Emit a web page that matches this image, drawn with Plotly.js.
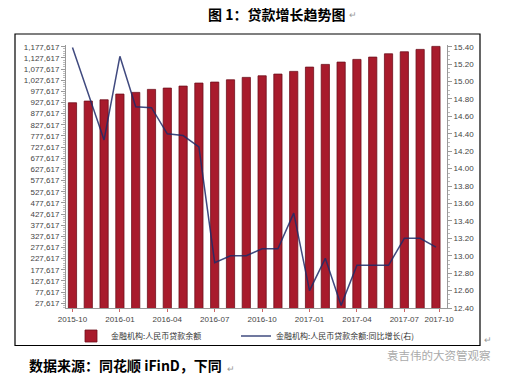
<!DOCTYPE html>
<html>
<head>
<meta charset="utf-8">
<script src="https://cdn.plot.ly/plotly-3.0.1.min.js"></script>
<style>
  html, body { margin: 0; padding: 0; background: #ffffff; }
  #chart { width: 507px; height: 377px; }
</style>
</head>
<body>
<div id="chart"></div>
<script>
// ---- data ----
const months = ['2015-10','2015-11','2015-12','2016-01','2016-02','2016-03','2016-04','2016-05',
                '2016-06','2016-07','2016-08','2016-09','2016-10','2016-11','2016-12','2017-01',
                '2017-02','2017-03','2017-04','2017-05','2017-06','2017-07','2017-08','2017-09'];
const loanBalance = [926300, 933900, 939700, 965300, 972900, 986300, 992100, 1001100,
                     1014600, 1019000, 1029300, 1040100, 1047200, 1054900, 1067000, 1086200,
                     1098300, 1108600, 1120700, 1131000, 1145800, 1154800, 1165500, 1179000];
const loanGrowth = [15.39, 14.86, 14.33, 15.29, 14.71, 14.70, 14.40, 14.38,
                    14.25, 12.92, 13.00, 13.00, 13.08, 13.08, 13.49, 12.60,
                    12.97, 12.43, 12.89, 12.89, 12.89, 13.20, 13.20, 13.10];
const xTickLabels = ['2015-10','2016-01','2016-04','2016-07','2016-10','2017-01','2017-04','2017-07','2017-10'];
const seriesNames = ['金融机构:人民币贷款余额', '金融机构:人民币贷款余额:同比增长(右)'];

// ---- geometry helpers (plot area in pixels) ----
const W = 507, H = 377;
const L = 66, R = 447, T = 45, B = 308;
const px = x => (x - L) / (R - L);
const py = y => (B - y) / (B - T);

const xIdx = months.map((m, i) => i);
const tickvals = xTickLabels.map(l => { const i = months.indexOf(l); return i >= 0 ? i : months.length - 0.8; });

const traces = [
  {
    type: 'bar', name: seriesNames[0], x: xIdx, y: loanBalance, text: months,
    hovertemplate: '%{text}: %{y:,}<extra></extra>', textposition: 'none', legend: 'legend',
    marker: { color: '#a81b2c', line: { color: '#6e0f1c', width: 0.8 } }
  },
  {
    type: 'scatter', mode: 'lines', name: seriesNames[1], x: xIdx, y: loanGrowth, yaxis: 'y2',
    text: months, hovertemplate: '%{text}: %{y:.2f}<extra></extra>', legend: 'legend2',
    line: { color: 'rgba(30,42,105,0.85)', width: 1.5 }
  }
];

const tickFont = { family: 'Liberation Sans, Noto Sans CJK SC, sans-serif', size: 8, color: '#444' };
const legendFont = { family: 'Noto Sans CJK SC, sans-serif', size: 8, color: '#333' };

const layout = {
  width: W, height: H,
  margin: { l: L, r: W - R, t: T, b: H - B, pad: 0 },
  paper_bgcolor: '#ffffff', plot_bgcolor: '#ffffff',
  font: { family: 'Noto Sans CJK SC, Liberation Sans, sans-serif', size: 8, color: '#333' },
  bargap: 0.48,
  showlegend: true,
  legend: {
    orientation: 'h', x: px(71), y: py(336), xanchor: 'left', yanchor: 'middle',
    font: legendFont, itemwidth: 30, bgcolor: 'rgba(0,0,0,0)'
  },
  legend2: {
    orientation: 'h', x: px(236), y: py(336), xanchor: 'left', yanchor: 'middle',
    font: legendFont, itemwidth: 30, bgcolor: 'rgba(0,0,0,0)'
  },
  xaxis: {
    range: [-0.41, 23.7], tickmode: 'array', tickvals: tickvals, ticktext: xTickLabels,
    showgrid: false, zeroline: false, showline: true, linecolor: '#999', linewidth: 1,
    ticks: 'outside', ticklen: 3, tickcolor: '#c66', tickfont: tickFont, fixedrange: true
  },
  yaxis: {
    range: [6561, 1185233], tickmode: 'linear', tick0: 27617, dtick: 50000,
    tickformat: ',d', showgrid: false, zeroline: false, showline: true, linecolor: '#999',
    ticks: 'outside', ticklen: 4, tickcolor: '#999', tickfont: tickFont,
    minor: { ticks: 'outside', ticklen: 2, tick0: 27617, dtick: 10000, tickcolor: '#bbb', showgrid: false },
    fixedrange: true
  },
  yaxis2: {
    overlaying: 'y', side: 'right', range: [12.40, 15.42], tickmode: 'linear', tick0: 12.4, dtick: 0.2,
    tickformat: '.2f', showgrid: false, zeroline: false, showline: true, linecolor: '#999',
    ticks: 'outside', ticklen: 4, tickcolor: '#999', tickfont: tickFont,
    minor: { ticks: 'outside', ticklen: 2, tick0: 12.4, dtick: 0.05, tickcolor: '#bbb', showgrid: false },
    fixedrange: true
  },
  shapes: [
    { type: 'rect', xref: 'paper', yref: 'paper', x0: px(15), x1: px(480), y0: py(345.5), y1: py(34),
      line: { color: '#000', width: 1.2 }, fillcolor: 'rgba(0,0,0,0)', layer: 'above' }
  ],
  annotations: [
    { text: '<b>图 1：贷款增长趋势图</b>', xref: 'paper', yref: 'paper', x: px(276), y: py(14),
      xanchor: 'center', yanchor: 'middle', showarrow: false,
      font: { family: 'Noto Sans CJK SC, sans-serif', size: 14, color: '#000' } },
    { text: '↵', xref: 'paper', yref: 'paper', x: px(347), y: py(15), xanchor: 'left', yanchor: 'middle',
      showarrow: false, font: { size: 9, color: '#999' } },
    { text: '↵', xref: 'paper', yref: 'paper', x: px(482), y: py(339), xanchor: 'left', yanchor: 'middle',
      showarrow: false, font: { size: 9, color: '#999' } },
    { text: '<b>数据来源：同花顺 iFinD，下同</b>', xref: 'paper', yref: 'paper', x: px(27), y: py(365),
      xanchor: 'left', yanchor: 'middle', showarrow: false,
      font: { family: 'Noto Sans CJK SC, sans-serif', size: 14, color: '#000' } },
    { text: '↵', xref: 'paper', yref: 'paper', x: px(225), y: py(368), xanchor: 'left', yanchor: 'middle',
      showarrow: false, font: { size: 9, color: '#999' } },
    { text: '袁吉伟的大资管观察', xref: 'paper', yref: 'paper', x: px(385), y: py(355),
      xanchor: 'left', yanchor: 'middle', showarrow: false,
      font: { family: 'Noto Sans CJK SC, sans-serif', size: 11.5, color: '#aaa' } }
  ]
};

Plotly.newPlot('chart', traces, layout, { displayModeBar: false, staticPlot: true });
</script>
</body>
</html>
